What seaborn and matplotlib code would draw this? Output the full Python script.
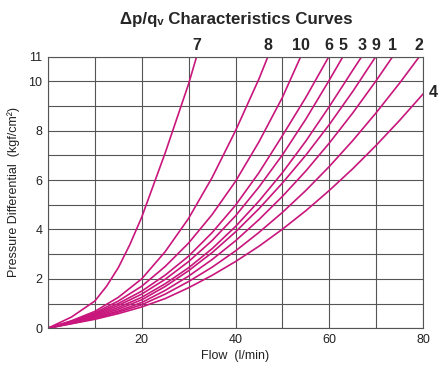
import numpy as np
import pandas as pd
import matplotlib
matplotlib.use("Agg")
import matplotlib.pyplot as plt
import seaborn as sns

# ---------------- Data ----------------
curve_names = ["7", "8", "10", "6", "5", "3", "9", "1", "2", "4"]

flow_7 = [0, 5, 10, 12.5, 15, 17.5, 20, 22.5, 25, 27.5, 30, 31.7]
dp_7 = [0, 0.45, 1.1, 1.7, 2.45, 3.4, 4.5, 5.8, 7.1, 8.5, 9.9, 11]

flow_8 = [0, 5, 10, 15, 20, 25, 30, 35, 40, 45, 46.9]
dp_8 = [0, 0.3, 0.68, 1.25, 2.0, 3.1, 4.45, 6.1, 8.0, 10.1, 11]

flow_10 = [0, 5, 10, 15, 20, 25, 30, 35, 40, 45, 50, 53.9]
dp_10 = [0, 0.28, 0.62, 1.1, 1.7, 2.5, 3.45, 4.6, 5.95, 7.55, 9.35, 11]

flow_6 = [0, 5, 10, 15, 20, 25, 30, 35, 40, 45, 50, 55, 59.9]
dp_6 = [0, 0.27, 0.58, 1.0, 1.5, 2.15, 2.92, 3.87, 4.98, 6.3, 7.8, 9.35, 11]

flow_5 = [0, 5, 10, 15, 20, 25, 30, 35, 40, 45, 50, 55, 60, 62.9]
dp_5 = [0, 0.25, 0.54, 0.92, 1.38, 1.98, 2.7, 3.55, 4.55, 5.72, 7.02, 8.47, 10.05, 11]

flow_3 = [0, 5, 10, 15, 20, 25, 30, 35, 40, 45, 50, 55, 60, 65, 66.9]
dp_3 = [0, 0.24, 0.5, 0.84, 1.25, 1.8, 2.45, 3.22, 4.12, 5.15, 6.3, 7.58, 8.98, 10.45, 11]

flow_9 = [0, 5, 10, 15, 20, 25, 30, 35, 40, 45, 50, 55, 60, 65, 69.9]
dp_9 = [0, 0.22, 0.46, 0.77, 1.15, 1.69, 2.33, 3.06, 3.9, 4.84, 5.88, 7.01, 8.25, 9.59, 11]

flow_1 = [0, 5, 10, 15, 20, 25, 30, 35, 40, 45, 50, 55, 60, 65, 70, 73.5]
dp_1 = [0, 0.21, 0.42, 0.7, 1.04, 1.53, 2.11, 2.78, 3.54, 4.4, 5.34, 6.37, 7.5, 8.72, 10.03, 11]

flow_2 = [0, 5, 10, 15, 20, 25, 30, 35, 40, 45, 50, 55, 60, 65, 70, 75, 79.2]
dp_2 = [0, 0.19, 0.39, 0.65, 0.95, 1.38, 1.89, 2.47, 3.13, 3.88, 4.69, 5.58, 6.55, 7.6, 8.73, 9.93, 11]

flow_4 = [0, 5, 10, 15, 20, 25, 30, 35, 40, 45, 50, 55, 60, 65, 70, 75, 80]
dp_4 = [0, 0.18, 0.36, 0.59, 0.86, 1.2, 1.64, 2.14, 2.7, 3.32, 4.01, 4.76, 5.58, 6.46, 7.41, 8.42, 9.49]

curve_flows = [flow_7, flow_8, flow_10, flow_6, flow_5, flow_3, flow_9, flow_1, flow_2, flow_4]
curve_dps = [dp_7, dp_8, dp_10, dp_6, dp_5, dp_3, dp_9, dp_1, dp_2, dp_4]

x_ticks = [20, 40, 60, 80]
y_ticks = [0, 2, 4, 6, 8, 10, 11]

# long-form table for seaborn
df = pd.concat(
    [pd.DataFrame({"flow": f, "dp": p, "curve": n})
     for n, f, p in zip(curve_names, curve_flows, curve_dps)],
    ignore_index=True,
)

# ---------------- Plot ----------------
sns.set_style("white")
plt.rcParams["font.family"] = ["Liberation Sans", "DejaVu Sans"]

line_color = "#c8167c"
grid_color = "#555555"

fig = plt.figure(figsize=(4.44, 3.70), dpi=100)
ax = fig.add_axes([0.108, 0.113, 0.845, 0.734])

for n in curve_names:
    sub = df[df["curve"] == n]
    sns.lineplot(data=sub, x="flow", y="dp", ax=ax, color=line_color,
                 linewidth=1.2, sort=False, estimator=None)

ax.set_xlim(0, 80)
ax.set_ylim(0, 11)
ax.set_xticks(np.arange(0, 81, 10), minor=True)
ax.set_yticks(np.arange(0, 12, 1), minor=True)
ax.set_xticks(x_ticks)
ax.set_yticks(y_ticks)
ax.grid(which="both", color=grid_color, linewidth=0.8)
ax.set_axisbelow(True)
ax.tick_params(which="both", length=0, labelsize=9, colors="#222222", pad=4)
for s in ax.spines.values():
    s.set_color(grid_color)
    s.set_linewidth(0.8)

ax.set_xlabel("Flow  (l/min)", fontsize=9, color="#222222", labelpad=3)
ax.set_ylabel("Pressure Differential  (kgf/cm²)", fontsize=9, color="#222222", labelpad=6)

# curve numbers above the top ends, "4" at the right edge
for n, f, p in zip(curve_names, curve_flows, curve_dps):
    if n == "4":
        ax.text(81.2, p[-1] + 0.05, n, fontsize=11.5, fontweight="bold",
                ha="left", va="center", clip_on=False)
    else:
        ax.text(f[-1], 11.45, n, fontsize=11.5, fontweight="bold",
                ha="center", va="center", clip_on=False)

fig.text(0.533, 0.948, "Δp/qᵥ Characteristics Curves", fontsize=12.2,
         fontweight="bold", ha="center", va="center")

fig.savefig("out.png", dpi=100)
